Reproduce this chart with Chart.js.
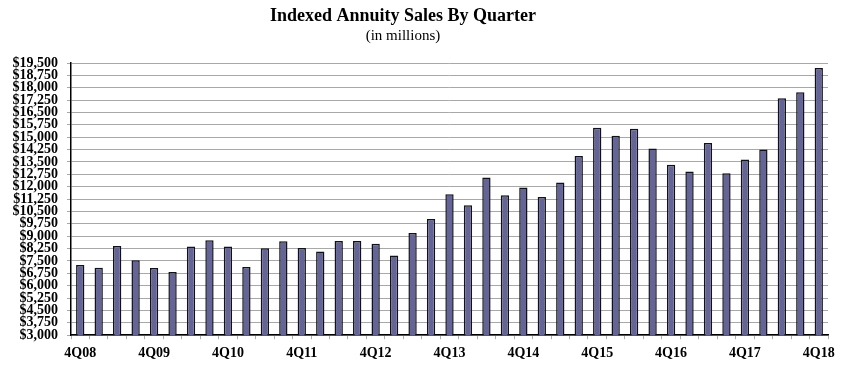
<!DOCTYPE html>
<html>
<head>
<meta charset="utf-8">
<script src="https://cdn.jsdelivr.net/npm/chart.js@4"></script>
<style>
  html, body { margin: 0; padding: 0; background: #fff; }
  #wrap { width: 841px; height: 371px; }
</style>
</head>
<body>
<div id="wrap"><canvas id="chart" width="841" height="371"></canvas></div>
<script>
const title = 'Indexed Annuity Sales By Quarter';
const subtitle = '(in millions)';

// quarters 4Q08 .. 4Q18
const years = ['08', '09', '10', '11', '12', '13', '14', '15', '16', '17', '18'];
const quarters = ['1Q', '2Q', '3Q', '4Q'];

// sales, $ millions
const sales = [
  7250, 7090, 8400, 7550, 7070, 6830, 8370, 8750, 8370, 7130,
  8270, 8700, 8290, 8070, 8710, 8710, 8550, 7830, 9200, 10040,
  11540, 10880, 12560, 11480, 11960, 11380, 12250, 13870, 15570, 15090,
  15510, 14310, 13330, 12930, 14650, 12810, 13650, 14250, 17360, 17720,
  19200
];

const yMin = 3000;
const yMax = 19500;
const yStep = 750;

const labels = ['4Q' + years[0]];
years.slice(1).forEach(y => quarters.forEach(q => labels.push(q + y)));

const serif = '"Liberation Serif", "DejaVu Serif", serif';

const headerPlugin = {
  id: 'header',
  afterDraw(chart) {
    const ctx = chart.ctx;
    ctx.save();
    ctx.fillStyle = '#000';
    ctx.textAlign = 'center';
    ctx.textBaseline = 'middle';
    ctx.font = 'bold 18px ' + serif;
    ctx.fillText(title, 403, 16);
    ctx.font = '15px ' + serif;
    ctx.fillText(subtitle, 403, 36);
    ctx.restore();
  }
};

const ctx = document.getElementById('chart').getContext('2d');

new Chart(ctx, {
  type: 'bar',
  data: {
    labels: labels,
    datasets: [{
      label: 'Sales',
      data: sales,
      backgroundColor: 'rgb(100, 100, 150)',
      borderColor: '#111118',
      borderWidth: 1.5,
      borderSkipped: 'bottom',
      categoryPercentage: 1,
      barPercentage: 0.45,
    }]
  },
  options: {
    responsive: false,
    animation: false,
    layout: {padding: {top: 63, right: 13, bottom: 3, left: 0}},
    plugins: {
      legend: {display: false},
      tooltip: {enabled: false},
    },
    scales: {
      x: {
        grid: {
          display: true,
          drawOnChartArea: false,
          drawTicks: true,
          tickLength: 4,
          color: '#b0b0b0',
          offset: true,
        },
        border: {display: true, color: '#000', width: 1.5},
        ticks: {
          autoSkip: false,
          maxRotation: 0,
          padding: 6,
          color: '#000',
          font: {family: serif, size: 14, weight: 'bold'},
          callback: (v, i) => i % 4 === 0 ? labels[i] : '',
        },
      },
      y: {
        min: yMin,
        max: yMax,
        afterFit: scale => { scale.width = 71; },
        grid: {
          color: '#a8a8a8',
          lineWidth: 1,
          tickLength: 4,
        },
        border: {display: true, color: '#000', width: 1.5},
        ticks: {
          stepSize: yStep,
          autoSkip: false,
          padding: 9,
          color: '#000',
          font: {family: serif, size: 14, weight: 'bold', lineHeight: 1},
          callback: v => '$' + v.toLocaleString('en-US'),
        },
      },
    },
  },
  plugins: [headerPlugin],
});
</script>
</body>
</html>
